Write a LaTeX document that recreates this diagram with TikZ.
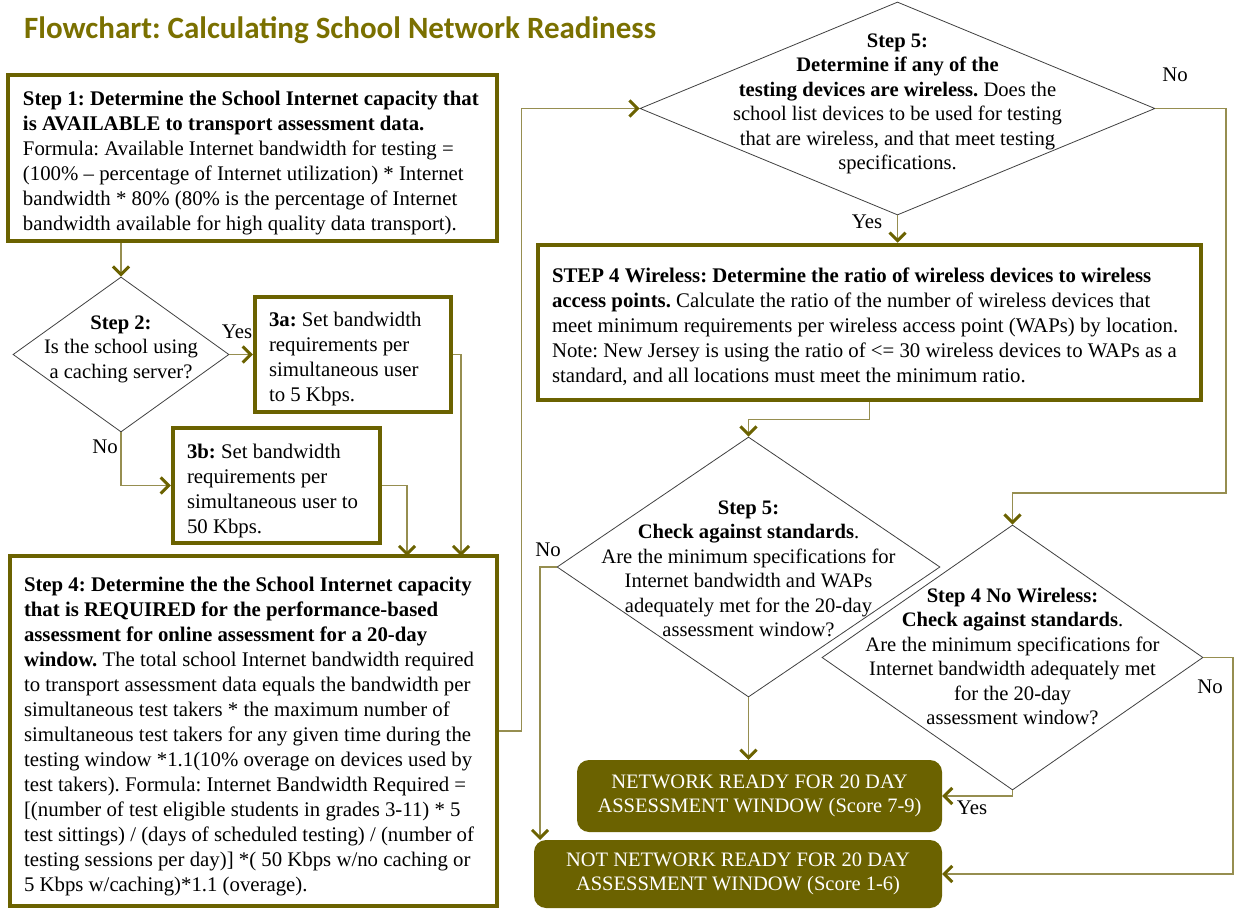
\documentclass[tikz,border=0pt]{standalone}
\usepackage{fontspec}
\setmainfont{Liberation Serif}
\newfontfamily\titlefont{Carlito}
\usetikzlibrary{shapes.geometric,arrows.meta,calc}
\definecolor{olv}{RGB}{107,98,0}
\definecolor{olvline}{RGB}{150,142,80}
\definecolor{olvtitle}{RGB}{122,112,0}
\newcommand{\boxlines}[2]{\raisebox{-5pt}[\height][\depth]{\makebox[#1][l]{\begin{tabular}{@{}l@{}}#2\end{tabular}}}}
\begin{document}
\frenchspacing
\begin{tikzpicture}[x=1pt,y=-1pt,
  txt/.style={font=\fontsize{20.8}{25}\selectfont},
  dtxt/.style={font=\fontsize{20.6}{24.5}\selectfont, align=center, inner sep=0pt},
  stepbox/.style={draw=olv, line width=4.5pt, fill=white, inner sep=0pt, txt},
  endbox/.style={fill=olv, rounded corners=12pt, inner sep=0pt, align=center, text=white, font=\fontsize{20.5}{24.5}\selectfont},
  dia/.style={diamond, draw=black!75, line width=0.8pt, inner sep=0pt, fill=white},
  conn/.style={draw=olvline, line width=1.2pt, -{Straight Barb[length=8pt,width=16pt,line width=3pt,color=olv]}},
  lbl/.style={txt, inner sep=0pt}
]
\useasboundingbox (0,0) rectangle (1235,909);

\node[font=\titlefont\bfseries\fontsize{31}{34}\selectfont, text=olvtitle, anchor=west, inner sep=0pt] (title) at (24,30) {Flowchart: Calculating School Network Readiness};

% Step 1
\node[stepbox, minimum width=489, minimum height=166] (s1) at (252.5,158) {\boxlines{459pt}{%
\textbf{Step 1: Determine the School Internet capacity that}\\
\textbf{is AVAILABLE to transport assessment data.}\\
Formula: Available Internet bandwidth for testing =\\
(100\% -- percentage of Internet utilization) * Internet\\
bandwidth * 80\% (80\% is the percentage of Internet\\
bandwidth available for high quality data transport).}};

% Step 2 diamond
\node[dia, minimum width=216, minimum height=155] (d2) at (121,354.5) {};
\node[dtxt] (d2t) at (121,349) {\textbf{Step 2:}\\Is the school using\\a caching server?};

% 3a, 3b
\node[stepbox, minimum width=196, minimum height=115] (b3a) at (353,354.5) {\boxlines{168pt}{%
\textbf{3a:} Set bandwidth\\requirements per\\simultaneous user\\to 5 Kbps.}};
\node[stepbox, minimum width=207, minimum height=115] (b3b) at (276.5,485.5) {\boxlines{179pt}{%
\textbf{3b:} Set bandwidth\\requirements per\\simultaneous user to\\50 Kbps.}};

% Step 4
\node[stepbox, minimum width=487, minimum height=350] (s4) at (253.5,731) {\boxlines{459pt}{%
\textbf{Step 4: Determine the the School Internet capacity}\\
\textbf{that is REQUIRED for the performance-based}\\
\textbf{assessment for online assessment for a 20-day}\\
\textbf{window.} The total school Internet bandwidth required\\
to transport assessment data equals the bandwidth per\\
simultaneous test takers * the maximum number of\\
simultaneous test takers for any given time during the\\
testing window *1.1(10\% overage on devices used by\\
test takers). Formula: Internet Bandwidth Required =\\{}[(number of test eligible students in grades 3-11) * 5\\
test sittings) / (days of scheduled testing) / (number of\\
testing sessions per day)] *( 50 Kbps w/no caching or\\
5 Kbps w/caching)*1.1 (overage).}};

% Step 5 top diamond
\node[dia, minimum width=515, minimum height=213] (d5) at (897.5,108.5) {};
\node[dtxt] (d5t) at (897.5,104) {\textbf{Step 5:}\\\textbf{Determine if any of the}\\\textbf{testing devices are wireless.} Does the\\school list devices to be used for testing\\that are wireless, and that meet testing\\specifications.};

% Step 4 wireless
\node[stepbox, minimum width=663, minimum height=155] (s4w) at (869.5,322.5) {\boxlines{635pt}{%
\textbf{STEP 4 Wireless: Determine the ratio of wireless devices to wireless}\\
\textbf{access points.} Calculate the ratio of the number of wireless devices that\\
meet minimum requirements per wireless access point (WAPs) by location.\\
Note: New Jersey is using the ratio of <= 30 wireless devices to WAPs as a\\
standard, and all locations must meet the minimum ratio.}};

% Step 5 lower diamond
\node[dia, minimum width=383, minimum height=260] (d5l) at (748.5,567) {};
\node[dtxt] (d5lt) at (748.5,569) {\textbf{Step 5:}\\\textbf{Check against standards}.\\Are the minimum specifications for\\Internet bandwidth and WAPs\\adequately met for the 20-day\\assessment window?};

% Step 4 no wireless diamond
\node[dia, minimum width=381, minimum height=265] (d4) at (1012.5,657.5) {};
\node[dtxt] (d4t) at (1012.5,656.5) {\textbf{Step 4 No Wireless:}\\\textbf{Check against standards}.\\Are the minimum specifications for\\Internet bandwidth adequately met\\for the 20-day\\assessment window?};

% end boxes
\node[endbox, minimum width=365, minimum height=72] (ready) at (759.5,796) {NETWORK READY FOR 20 DAY\\ASSESSMENT WINDOW (Score 7-9)};
\node[endbox, minimum width=408, minimum height=68] (notready) at (738,874) {NOT NETWORK READY FOR 20 DAY\\ASSESSMENT WINDOW (Score 1-6)};

% helper coordinates
\coordinate (j3a) at (461,556);
\coordinate (j3b) at (407,556);
\coordinate (r1) at (1226,493);
\coordinate (nt) at (540,840);
\coordinate (r2) at (1233,874);

% connectors
\draw[conn] (s1.south -| d2.north) -- (d2.north);
\draw[conn] (d2.east) -- (b3a.west);
\draw[conn] (d2.south) |- (b3b.west);
\draw[conn] (b3a.east) -| (j3a);
\draw[conn] (b3b.east) -| (j3b);
\draw[conn] (s4.east) -- ++(22,0) |- (d5.west);
\draw[conn] (d5.south) -- (d5.south |- s4w.north);
\draw[conn] (d5.east) -| (r1) -| (d4.north);
\draw[conn] (s4w.south) -- ++(0,17) -| (d5l.north);
\draw[conn] (d5l.south) -- (d5l.south |- ready.north);
\draw[conn] (d5l.west) -| (nt);
\draw[conn] (d4.south) |- (ready.east);
\draw[conn] (d4.east) -| (r2) -- (notready.east);

% labels
\node[lbl] (yes2) at (237,332) {Yes};
\node[lbl] (no2) at (105,447) {No};
\node[lbl] (yes5) at (867,222) {Yes};
\node[lbl] (no5) at (1175,75) {No};
\node[lbl] (no5l) at (548,550) {No};
\node[lbl] (yes4) at (972,808) {Yes};
\node[lbl] (no4) at (1210,687) {No};
\end{tikzpicture}
\end{document}
